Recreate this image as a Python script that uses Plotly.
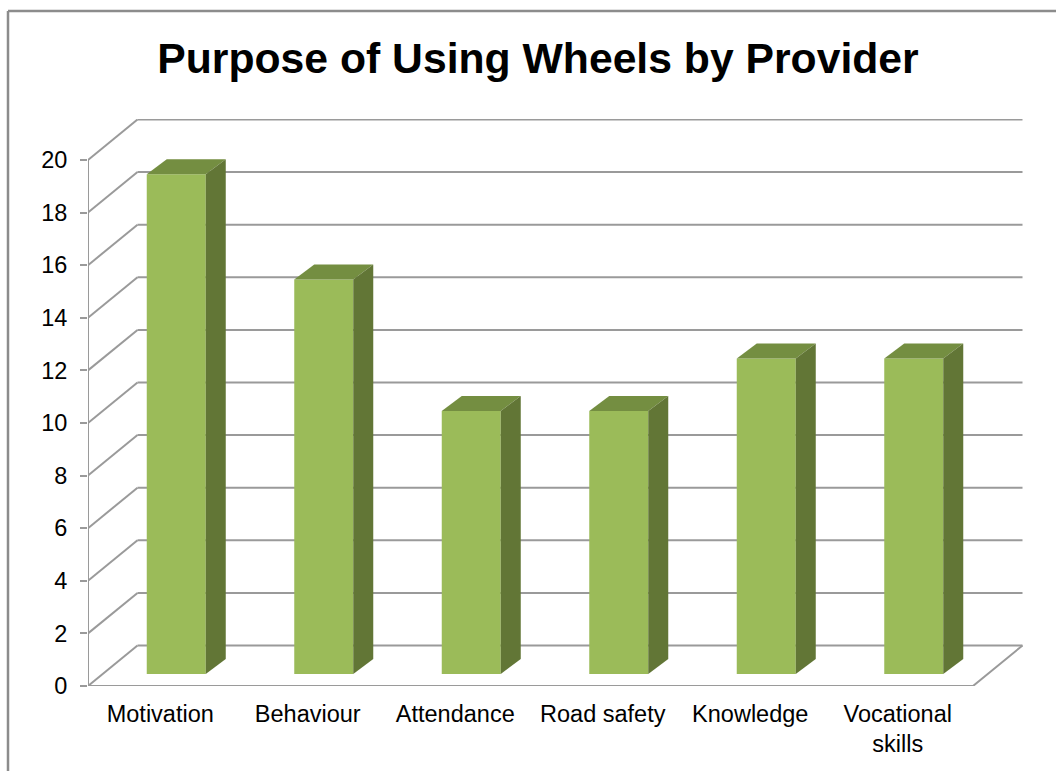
import plotly.graph_objects as go

categories = ["Motivation", "Behaviour", "Attendance", "Road safety", "Knowledge", "Vocational<br>skills"]
values = [19, 15, 10, 10, 12, 12]
y_ticks = list(range(0, 21, 2))
title_text = "Purpose of Using Wheels by Provider"

# pixel scale of the chart, used only for layout of the pseudo-3D depth
PX_X, PX_Y = 147.5, 26.3
WALL_DX, WALL_DY = 49.5 / PX_X, 40.5 / PX_Y
BAR_SHIFT, BAR_LIFT = 14.5 / PX_X, 12 / PX_Y
BAR_W = 59 / PX_X
BAR_DX, BAR_DY = 20 / PX_X, 15 / PX_Y
LABEL_SHIFT = -1.5 / PX_X
N = len(categories)
centres = [i + 0.5 for i in range(N)]

GRID = "#9a9a9a"
FRONT, TOP, SIDE = "#9BBB59", "#748E41", "#627636"
FONT = "Liberation Sans"

fig = go.Figure()

# front faces
fig.add_trace(go.Bar(
    x=[c + BAR_SHIFT for c in centres], y=values, base=BAR_LIFT, width=BAR_W,
    marker=dict(color=FRONT, line=dict(width=0)), hoverinfo="skip"))

# top and side faces
for c, v in zip(centres, values):
    l, r = c + BAR_SHIFT - BAR_W / 2, c + BAR_SHIFT + BAR_W / 2
    t, b = v + BAR_LIFT, BAR_LIFT
    fig.add_trace(go.Scatter(
        x=[l, r, r + BAR_DX, l + BAR_DX, l], y=[t, t, t + BAR_DY, t + BAR_DY, t],
        mode="lines", fill="toself", fillcolor=TOP, line=dict(width=0), hoverinfo="skip"))
    fig.add_trace(go.Scatter(
        x=[r, r + BAR_DX, r + BAR_DX, r, r], y=[b, b + BAR_DY, t + BAR_DY, t, b],
        mode="lines", fill="toself", fillcolor=SIDE, line=dict(width=0), hoverinfo="skip"))

# left wall diagonals, front axis line and floor outline
line = dict(color=GRID, width=2)
xs, ys = [], []
for v in y_ticks:
    xs += [0, WALL_DX, None]
    ys += [v, v + WALL_DY, None]
xs += [0, 0, None, 0, N, N + WALL_DX]
ys += [y_ticks[0], y_ticks[-1], None, 0, 0, WALL_DY]
fig.add_trace(go.Scatter(x=xs, y=ys, mode="lines", line=line, cliponaxis=False, hoverinfo="skip"))

# back wall gridlines sit behind the bars
shapes = [dict(type="line", xref="x", yref="y", layer="below", x0=WALL_DX, x1=N + WALL_DX,
               y0=v + WALL_DY, y1=v + WALL_DY, line=line) for v in y_ticks]
# outer frame of the chart area
frame = dict(color="#8c8c8c", width=2.5)
W, H = 1056, 771
L, R, T, B = 88, 32, 119, 85
pw, ph = W - L - R, H - T - B
fx = lambda p: (p - L) / pw
fy = lambda p: (H - B - p) / ph
shapes += [
    dict(type="line", xref="paper", yref="paper", x0=fx(8), x1=fx(8), y0=fy(11), y1=fy(771), line=frame),
    dict(type="line", xref="paper", yref="paper", x0=fx(8), x1=fx(1056), y0=fy(11), y1=fy(11), line=frame),
]

fig.update_layout(
    width=W, height=H, margin=dict(l=L, r=R, t=T, b=B), autosize=False,
    paper_bgcolor="white", plot_bgcolor="white", showlegend=False, shapes=shapes,
    title=dict(text=title_text, x=(158 + 918) / 2 / W, xanchor="center", y=1 - 58 / H, yanchor="middle",
               font=dict(family=FONT, size=42.7, color="black", weight="bold")),
    xaxis=dict(range=[0, pw / PX_X], tickmode="array", tickvals=[c + LABEL_SHIFT for c in centres], ticktext=categories,
               showgrid=False, zeroline=False, showline=False, ticks="", ticklabelstandoff=11,
               tickfont=dict(family=FONT, size=23.5, color="black")),
    yaxis=dict(range=[0, ph / PX_Y], tickmode="array", tickvals=y_ticks, ticktext=[str(v) for v in y_ticks],
               showgrid=False, zeroline=False, showline=False, ticks="outside", ticklen=7,
               tickwidth=2, tickcolor=GRID, ticklabelstandoff=8,
               tickfont=dict(family=FONT, size=23.5, color="black")),
)

fig.write_html("out.html", config={"displayModeBar": False},
               post_script="document.body.style.margin='0';document.body.style.overflow='hidden';")
